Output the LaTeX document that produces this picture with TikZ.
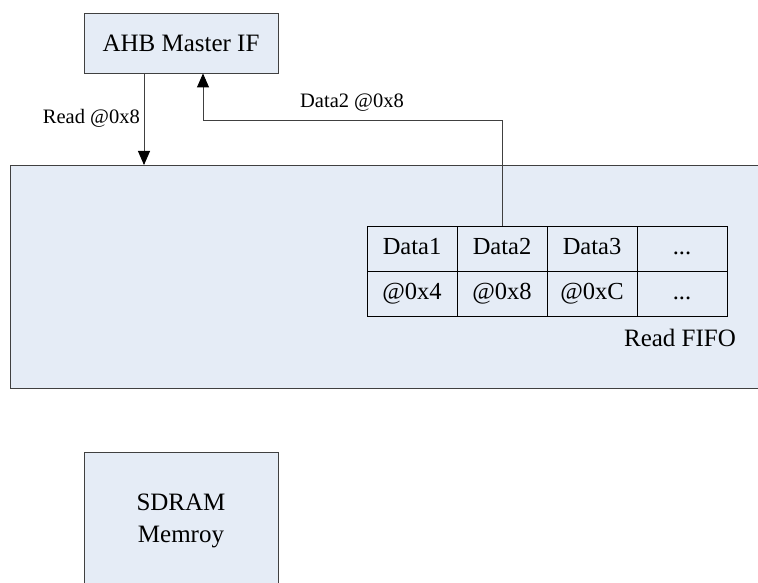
\documentclass[tikz,border=0pt]{standalone}
\usepackage{fontspec}
\setmainfont{Liberation Serif}
\usetikzlibrary{arrows.meta, positioning, calc}

\definecolor{boxfill}{RGB}{229,236,246}
\definecolor{boxline}{RGB}{64,64,64}
\newcommand{\moredots}{...}

\begin{document}
\begin{tikzpicture}[
    x=1pt, y=-1pt,
    blk/.style={draw=boxline, fill=boxfill, line width=0.9pt},
    cell/.style={draw=black, line width=0.8pt, minimum width=90pt, minimum height=45pt,
                 inner sep=0pt, text height=17pt, text depth=5pt,
                 font=\fontsize{24.5}{28}\selectfont},
    txt/.style={font=\fontsize{25}{32}\selectfont, align=center},
    lbl/.style={font=\fontsize{20.5}{24}\selectfont, inner sep=1pt},
    sig/.style={draw=boxline, line width=0.9pt, -{Triangle[width=12pt,length=14pt,color=black]}},
  ]
  \useasboundingbox (0,0) rectangle (758,583);
  % Controller body (cut at the right edge)
  \fill[boxfill] (10,165) rectangle (770,388);
  \draw[boxline, line width=0.9pt] (770,165) -- (10,165) -- (10,388) -- (770,388);
  \coordinate (rd) at (144,165);
  % AHB master interface
  \node[blk, txt, minimum width=194pt, minimum height=60pt] (ahb) at (181,43) {AHB Master IF};
  % Read FIFO cells
  \foreach \i/\d/\a in {1/Data1/@0x4, 2/Data2/@0x8, 3/Data3/@0xC, 4/\moredots/\moredots} {
    \node[cell] (d\i) at (322+\i*90, 248.5) {\d};
    \node[cell] (a\i) at (322+\i*90, 293.5) {\a};
  }
  \node[txt] (fifolbl) at (680,338) {Read FIFO};
  % SDRAM (cut at the bottom edge)
  \fill[boxfill] (84,452) rectangle (278,600);
  \draw[boxline, line width=0.9pt] (84,600) -- (84,452) -- (278,452) -- (278,600);
  \node[txt] (sdram) at (181,521) {SDRAM\\Memroy};
  % Signals
  \draw[sig] (ahb.south -| rd) -- (rd);
  \node[lbl, anchor=east] (rdlbl) at (141,118) {Read @0x8};
  \coordinate (bend) at (203,120);
  \draw[sig] (d2.north) |- (bend) -- (ahb.south -| bend);
  \node[lbl] (datalbl) at (352,103) {Data2 @0x8};
\end{tikzpicture}
\end{document}
